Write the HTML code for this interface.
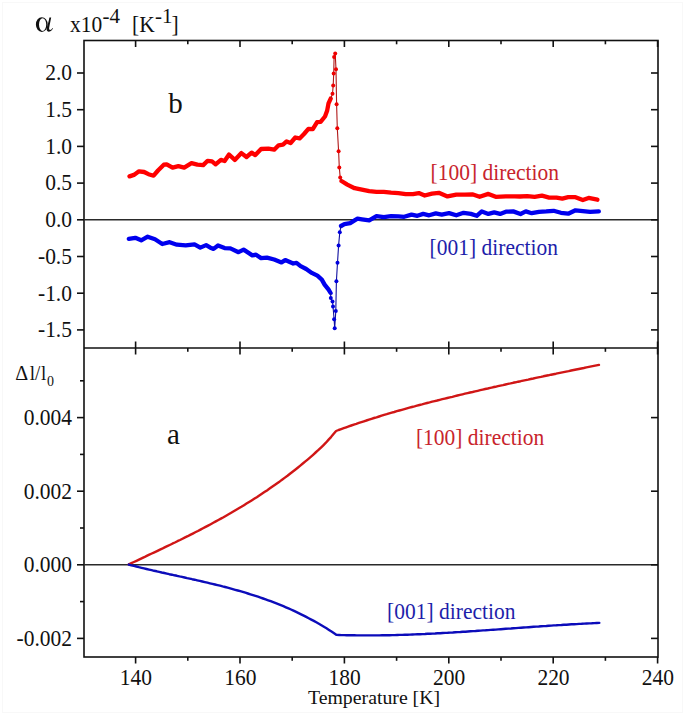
<!DOCTYPE html>
<html><head><meta charset="utf-8"><style>
html,body{margin:0;padding:0;background:#fff;}
svg{display:block;}
</style></head><body>
<svg width="685" height="715" viewBox="0 0 685 715">
<rect width="685" height="715" fill="#fff"/>
<rect x="2.5" y="2.5" width="680" height="710" fill="none" stroke="#f8f8f8" stroke-width="1"/>
<rect x="84" y="40.5" width="574" height="616.5" fill="none" stroke="#111" stroke-width="1.6"/>
<line x1="84" y1="348" x2="658" y2="348" stroke="#111" stroke-width="1.6"/>
<line x1="84" y1="219.8" x2="658" y2="219.8" stroke="#2a2a2a" stroke-width="1.4"/>
<line x1="84" y1="564.8" x2="658" y2="564.8" stroke="#2a2a2a" stroke-width="1.4"/>
<g stroke="#111" stroke-width="1.6"><line x1="135.6" y1="40.5" x2="135.6" y2="47.0"/><line x1="135.6" y1="657.0" x2="135.6" y2="663.5"/><line x1="135.6" y1="348.0" x2="135.6" y2="354.5"/><line x1="135.6" y1="341.5" x2="135.6" y2="348.0"/><line x1="187.8" y1="40.5" x2="187.8" y2="44.3"/><line x1="187.8" y1="657.0" x2="187.8" y2="660.8"/><line x1="187.8" y1="348.0" x2="187.8" y2="351.8"/><line x1="240.0" y1="40.5" x2="240.0" y2="47.0"/><line x1="240.0" y1="657.0" x2="240.0" y2="663.5"/><line x1="240.0" y1="348.0" x2="240.0" y2="354.5"/><line x1="240.0" y1="341.5" x2="240.0" y2="348.0"/><line x1="292.2" y1="40.5" x2="292.2" y2="44.3"/><line x1="292.2" y1="657.0" x2="292.2" y2="660.8"/><line x1="292.2" y1="348.0" x2="292.2" y2="351.8"/><line x1="344.4" y1="40.5" x2="344.4" y2="47.0"/><line x1="344.4" y1="657.0" x2="344.4" y2="663.5"/><line x1="344.4" y1="348.0" x2="344.4" y2="354.5"/><line x1="344.4" y1="341.5" x2="344.4" y2="348.0"/><line x1="396.6" y1="40.5" x2="396.6" y2="44.3"/><line x1="396.6" y1="657.0" x2="396.6" y2="660.8"/><line x1="396.6" y1="348.0" x2="396.6" y2="351.8"/><line x1="448.8" y1="40.5" x2="448.8" y2="47.0"/><line x1="448.8" y1="657.0" x2="448.8" y2="663.5"/><line x1="448.8" y1="348.0" x2="448.8" y2="354.5"/><line x1="448.8" y1="341.5" x2="448.8" y2="348.0"/><line x1="501.0" y1="40.5" x2="501.0" y2="44.3"/><line x1="501.0" y1="657.0" x2="501.0" y2="660.8"/><line x1="501.0" y1="348.0" x2="501.0" y2="351.8"/><line x1="553.2" y1="40.5" x2="553.2" y2="47.0"/><line x1="553.2" y1="657.0" x2="553.2" y2="663.5"/><line x1="553.2" y1="348.0" x2="553.2" y2="354.5"/><line x1="553.2" y1="341.5" x2="553.2" y2="348.0"/><line x1="605.4" y1="40.5" x2="605.4" y2="44.3"/><line x1="605.4" y1="657.0" x2="605.4" y2="660.8"/><line x1="605.4" y1="348.0" x2="605.4" y2="351.8"/><line x1="657.6" y1="40.5" x2="657.6" y2="47.0"/><line x1="657.6" y1="657.0" x2="657.6" y2="663.5"/><line x1="657.6" y1="348.0" x2="657.6" y2="354.5"/><line x1="657.6" y1="341.5" x2="657.6" y2="348.0"/><line x1="77.0" y1="73.0" x2="84.0" y2="73.0"/><line x1="651.0" y1="73.0" x2="658.0" y2="73.0"/><line x1="77.0" y1="109.7" x2="84.0" y2="109.7"/><line x1="651.0" y1="109.7" x2="658.0" y2="109.7"/><line x1="77.0" y1="146.4" x2="84.0" y2="146.4"/><line x1="651.0" y1="146.4" x2="658.0" y2="146.4"/><line x1="77.0" y1="183.1" x2="84.0" y2="183.1"/><line x1="651.0" y1="183.1" x2="658.0" y2="183.1"/><line x1="77.0" y1="219.8" x2="84.0" y2="219.8"/><line x1="651.0" y1="219.8" x2="658.0" y2="219.8"/><line x1="77.0" y1="256.5" x2="84.0" y2="256.5"/><line x1="651.0" y1="256.5" x2="658.0" y2="256.5"/><line x1="77.0" y1="293.2" x2="84.0" y2="293.2"/><line x1="651.0" y1="293.2" x2="658.0" y2="293.2"/><line x1="77.0" y1="329.9" x2="84.0" y2="329.9"/><line x1="651.0" y1="329.9" x2="658.0" y2="329.9"/><line x1="77.0" y1="638.4" x2="84.0" y2="638.4"/><line x1="651.0" y1="638.4" x2="658.0" y2="638.4"/><line x1="80.0" y1="601.6" x2="84.0" y2="601.6"/><line x1="77.0" y1="564.8" x2="84.0" y2="564.8"/><line x1="651.0" y1="564.8" x2="658.0" y2="564.8"/><line x1="80.0" y1="528.0" x2="84.0" y2="528.0"/><line x1="77.0" y1="491.2" x2="84.0" y2="491.2"/><line x1="651.0" y1="491.2" x2="658.0" y2="491.2"/><line x1="80.0" y1="454.4" x2="84.0" y2="454.4"/><line x1="77.0" y1="417.6" x2="84.0" y2="417.6"/><line x1="651.0" y1="417.6" x2="658.0" y2="417.6"/><line x1="80.0" y1="380.8" x2="84.0" y2="380.8"/></g>
<text font-family="Liberation Serif" font-size="21.5" fill="#111" text-anchor="end" x="0" y="0" transform="translate(72.00,80.30) scale(1.0,1.07)">2.0</text>
<text font-family="Liberation Serif" font-size="21.5" fill="#111" text-anchor="end" x="0" y="0" transform="translate(72.00,117.00) scale(1.0,1.07)">1.5</text>
<text font-family="Liberation Serif" font-size="21.5" fill="#111" text-anchor="end" x="0" y="0" transform="translate(72.00,153.70) scale(1.0,1.07)">1.0</text>
<text font-family="Liberation Serif" font-size="21.5" fill="#111" text-anchor="end" x="0" y="0" transform="translate(72.00,190.40) scale(1.0,1.07)">0.5</text>
<text font-family="Liberation Serif" font-size="21.5" fill="#111" text-anchor="end" x="0" y="0" transform="translate(72.00,227.10) scale(1.0,1.07)">0.0</text>
<text font-family="Liberation Serif" font-size="21.5" fill="#111" text-anchor="end" x="0" y="0" transform="translate(72.00,263.80) scale(1.0,1.07)">-0.5</text>
<text font-family="Liberation Serif" font-size="21.5" fill="#111" text-anchor="end" x="0" y="0" transform="translate(72.00,300.50) scale(1.0,1.07)">-1.0</text>
<text font-family="Liberation Serif" font-size="21.5" fill="#111" text-anchor="end" x="0" y="0" transform="translate(72.00,337.20) scale(1.0,1.07)">-1.5</text>
<text font-family="Liberation Serif" font-size="21.5" fill="#111" text-anchor="end" x="0" y="0" transform="translate(72.00,424.90) scale(1.0,1.07)">0.004</text>
<text font-family="Liberation Serif" font-size="21.5" fill="#111" text-anchor="end" x="0" y="0" transform="translate(72.00,498.50) scale(1.0,1.07)">0.002</text>
<text font-family="Liberation Serif" font-size="21.5" fill="#111" text-anchor="end" x="0" y="0" transform="translate(72.00,572.10) scale(1.0,1.07)">0.000</text>
<text font-family="Liberation Serif" font-size="21.5" fill="#111" text-anchor="end" x="0" y="0" transform="translate(72.00,645.70) scale(1.0,1.07)">-0.002</text>
<text font-family="Liberation Serif" font-size="21.5" fill="#111" text-anchor="middle" x="0" y="0" transform="translate(135.90,684.80) scale(1.0,1.07)">140</text>
<text font-family="Liberation Serif" font-size="21.5" fill="#111" text-anchor="middle" x="0" y="0" transform="translate(240.30,684.80) scale(1.0,1.07)">160</text>
<text font-family="Liberation Serif" font-size="21.5" fill="#111" text-anchor="middle" x="0" y="0" transform="translate(344.70,684.80) scale(1.0,1.07)">180</text>
<text font-family="Liberation Serif" font-size="21.5" fill="#111" text-anchor="middle" x="0" y="0" transform="translate(449.10,684.80) scale(1.0,1.07)">200</text>
<text font-family="Liberation Serif" font-size="21.5" fill="#111" text-anchor="middle" x="0" y="0" transform="translate(553.50,684.80) scale(1.0,1.07)">220</text>
<text font-family="Liberation Serif" font-size="21.5" fill="#111" text-anchor="middle" x="0" y="0" transform="translate(657.90,684.80) scale(1.0,1.07)">240</text>
<text font-family="Liberation Serif" font-size="19.8" fill="#111" x="308.00" y="703.50">Temperature [K]</text>
<text font-family="Liberation Serif" font-size="29" fill="#111" x="168.30" y="113.00">b</text>
<text font-family="Liberation Serif" font-size="29" fill="#111" x="167.00" y="444.00">a</text>
<path fill="#111" fill-rule="evenodd" d="M35.9,24.55 A5.9,7.35 0 1,0 47.7,24.55 A5.9,7.35 0 1,0 35.9,24.55 Z M39,24.55 A3.6,6.4 0 1,0 46.2,24.55 A3.6,6.4 0 1,0 39,24.55 Z"/>
<path fill="#111" d="M51.2,17.6 L49.4,17.6 C48.8,21 47.6,25.5 46.6,28.2 C46.2,30.5 47.8,32.2 49.8,31.6 C51.3,31.1 52.4,29.6 53,28.3 L52.5,28.1 C51.8,29.3 51,30 50.2,30 C49.2,30 48.9,29 49.2,27.5 C49.8,24.5 50.6,20.5 51.2,17.6 Z"/>
<text font-family="Liberation Serif" font-size="21.5" fill="#111" x="0" y="0" transform="translate(70.00,31.70) scale(1.0,1.07)">x10</text>
<text font-family="Liberation Serif" fill="#111" font-size="21" x="102.5" y="23">-4</text>
<text font-family="Liberation Serif" font-size="21.5" fill="#111" x="0" y="0" transform="translate(132.00,31.50) scale(1.0,1.07)">[K</text>
<text font-family="Liberation Serif" fill="#111" font-size="21" x="155" y="22.7">-1</text>
<text font-family="Liberation Serif" font-size="21.5" fill="#111" x="0" y="0" transform="translate(171.50,31.50) scale(1.0,1.07)">]</text>
<text font-family="Liberation Serif" font-size="19" fill="#111" x="0" y="0" transform="translate(15.3,379.8) scale(1.06,1.07)">Δ</text>
<g transform="translate(0,379.8) scale(1,1.07)"><text font-family="Liberation Serif" font-size="19" fill="#111" y="0"><tspan x="29.8">l</tspan><tspan x="35">/</tspan><tspan x="40.9">l</tspan></text></g>
<text font-family="Liberation Serif" font-size="14" fill="#111" x="0" y="0" transform="translate(47.00,386.00) scale(1.0,1.07)">0</text>
<text font-family="Liberation Serif" font-size="21.5" fill="#c8242c" x="0" y="0" transform="translate(430.60,179.80) scale(1.0,1.07)">[100] direction</text>
<text font-family="Liberation Serif" font-size="21.5" fill="#1e1eaa" x="0" y="0" transform="translate(429.60,254.80) scale(1.0,1.07)">[001] direction</text>
<text font-family="Liberation Serif" font-size="21.5" fill="#c8242c" x="0" y="0" transform="translate(415.90,444.60) scale(1.0,1.07)">[100] direction</text>
<text font-family="Liberation Serif" font-size="21.5" fill="#1e1eaa" x="0" y="0" transform="translate(387.10,618.80) scale(1.0,1.07)">[001] direction</text>
<polyline points="129.5,176.4 133.9,174.9 139.0,171.3 144.1,172.0 148.5,174.2 153.6,175.7 158.0,170.5 163.8,164.7 166.7,164.3 172.6,167.6 178.4,166.2 184.2,167.6 191.5,163.2 197.4,164.7 203.2,165.1 207.6,160.8 212.0,161.4 215.6,164.3 220.9,159.9 224.6,161.0 229.0,154.5 234.8,159.9 241.4,153.1 246.5,157.0 251.6,152.6 255.3,155.1 261.1,149.0 268.4,148.7 274.2,149.7 278.6,145.3 283.0,144.6 286.6,141.4 290.6,143.0 295.3,137.5 299.6,138.4 304.0,134.0 308.4,128.8 312.8,129.2 317.1,122.2 320.6,121.8 325.0,116.5 327.2,110.4 328.5,103.4 330.7,98.6" fill="none" stroke="#f00" stroke-width="4.3" stroke-linejoin="round" stroke-linecap="round"/>
<polyline points="341.5,181.0 347.3,184.6 354.6,188.2 361.9,189.7 369.2,191.2 376.5,191.9 383.8,191.9 391.1,192.6 398.4,193.1 405.7,194.1 413.0,194.1 418.8,193.1 424.7,195.5 432.0,193.6 438.8,192.8 447.5,196.4 456.3,194.6 465.0,194.6 472.3,194.3 479.6,196.8 488.4,193.9 495.7,196.8 505.9,196.4 514.7,196.4 520.0,196.5 527.3,196.2 534.6,196.8 541.9,195.7 549.2,197.6 556.5,197.6 562.3,198.6 568.2,197.2 575.5,197.2 582.8,200.1 588.6,197.9 597.4,199.7" fill="none" stroke="#f00" stroke-width="4.3" stroke-linejoin="round" stroke-linecap="round"/>
<polyline points="330.7,98.6 332.5,93.8 333.2,85.4 333.7,73.4 334.1,57.0 335.2,53.4 336.0,69.3 336.6,104.3 337.3,128.3 338.6,151.2 339.3,167.4 340.2,177.4 341.5,181.0" fill="none" stroke="#b01818" stroke-width="1.1" stroke-linejoin="round"/>
<g fill="#e00"><circle cx="332.5" cy="93.8" r="2.0"/><circle cx="333.2" cy="85.4" r="2.0"/><circle cx="333.7" cy="73.4" r="2.0"/><circle cx="334.1" cy="57" r="2.0"/><circle cx="335.2" cy="53.4" r="2.0"/><circle cx="336" cy="69.3" r="2.0"/><circle cx="336.6" cy="104.3" r="2.0"/><circle cx="337.3" cy="128.3" r="2.0"/><circle cx="338.6" cy="151.2" r="2.0"/><circle cx="339.3" cy="167.4" r="2.0"/><circle cx="340.2" cy="177.4" r="2.0"/></g>
<polyline points="128.8,238.9 135.3,237.8 141.2,240.3 147.7,236.7 155.0,239.3 162.3,244.0 169.6,242.2 176.9,244.7 185.7,245.4 194.5,244.3 200.3,247.6 206.1,245.1 210.0,247.4 213.6,248.9 218.0,245.5 224.6,248.1 230.4,248.4 238.5,252.2 243.6,249.6 252.3,255.4 256.0,254.7 261.1,258.1 266.9,257.6 274.2,259.5 281.5,262.4 285.2,260.1 293.2,263.5 296.5,262.8 300.6,266.2 306.2,269.0 311.8,272.9 317.4,275.7 321.8,279.6 324.6,284.6 328.6,289.7 330.6,293.0" fill="none" stroke="#00e" stroke-width="4.3" stroke-linejoin="round" stroke-linecap="round"/>
<polyline points="341.0,226.0 344.4,224.1 350.2,223.1 354.6,220.4 357.5,218.7 361.9,219.4 369.2,220.4 376.5,216.1 383.8,217.2 391.1,216.1 398.4,216.4 404.2,216.8 411.5,214.6 417.4,215.8 423.2,213.9 429.1,215.3 435.8,213.4 441.7,214.6 449.0,213.1 456.3,215.3 463.6,212.8 470.9,213.9 476.7,215.8 481.8,211.4 488.4,213.9 494.2,212.4 500.1,213.9 505.9,211.7 513.2,211.4 520.5,214.0 525.8,211.4 531.7,213.2 539.0,211.8 546.3,211.4 553.6,210.8 560.9,212.8 568.2,213.7 575.5,210.3 582.8,211.1 590.1,211.8 598.8,211.4" fill="none" stroke="#00e" stroke-width="4.3" stroke-linejoin="round" stroke-linecap="round"/>
<polyline points="330.6,293.0 330.8,298.1 332.5,301.4 333.0,306.5 334.1,319.3 334.7,328.3 335.8,310.9 336.4,281.3 337.5,262.8 338.6,245.4 339.8,232.3 341.0,226.0" fill="none" stroke="#1010a0" stroke-width="1.1" stroke-linejoin="round"/>
<g fill="#00d"><circle cx="330.8" cy="298.1" r="2.0"/><circle cx="332.5" cy="301.4" r="2.0"/><circle cx="333" cy="306.5" r="2.0"/><circle cx="334.1" cy="319.3" r="2.0"/><circle cx="334.7" cy="328.3" r="2.0"/><circle cx="335.8" cy="310.9" r="2.0"/><circle cx="336.4" cy="281.3" r="2.0"/><circle cx="337.5" cy="262.8" r="2.0"/><circle cx="338.6" cy="245.4" r="2.0"/><circle cx="339.8" cy="232.3" r="2.0"/></g>
<polyline points="128.8,564.4 131.4,563.2 133.9,562.0 136.5,560.8 139.0,559.6 141.6,558.4 144.2,557.2 146.7,555.9 149.3,554.7 151.8,553.5 154.4,552.3 157.0,551.1 159.5,549.9 162.1,548.7 164.6,547.4 167.2,546.2 169.7,545.0 172.3,543.7 174.9,542.5 177.4,541.2 180.0,540.0 182.5,538.7 185.1,537.4 187.7,536.2 190.2,534.9 192.8,533.6 195.3,532.3 197.9,531.0 200.5,529.6 203.0,528.3 205.6,526.9 208.1,525.6 210.7,524.2 213.3,522.8 215.8,521.4 218.4,520.0 220.9,518.6 223.5,517.2 226.1,515.7 228.6,514.3 231.2,512.8 233.7,511.3 236.3,509.8 238.8,508.3 241.4,506.8 244.0,505.2 246.5,503.6 249.1,502.0 251.6,500.4 254.2,498.8 256.8,497.2 259.3,495.5 261.9,493.8 264.4,492.1 267.0,490.4 269.6,488.6 272.1,486.8 274.7,485.0 277.2,483.2 279.8,481.4 282.4,479.5 284.9,477.6 287.5,475.7 290.0,473.7 292.6,471.7 295.2,469.7 297.7,467.7 300.3,465.6 302.8,463.5 305.4,461.4 307.9,459.3 310.5,457.1 313.1,454.8 315.6,452.5 318.2,450.2 320.7,447.8 323.3,445.3 325.9,442.7 328.4,439.9 331.0,437.1 333.5,434.1 336.1,431.0 338.6,430.0 341.2,429.1 343.7,428.2 346.2,427.3 348.7,426.4 351.3,425.5 353.8,424.6 356.3,423.8 358.9,422.9 361.4,422.1 363.9,421.3 366.4,420.5 369.0,419.6 371.5,418.8 374.0,418.0 376.5,417.3 379.1,416.5 381.6,415.7 384.1,414.9 386.7,414.2 389.2,413.4 391.7,412.7 394.2,412.0 396.8,411.2 399.3,410.5 401.8,409.8 404.4,409.1 406.9,408.4 409.4,407.7 411.9,407.0 414.5,406.4 417.0,405.7 419.5,405.0 422.0,404.4 424.6,403.7 427.1,403.0 429.6,402.4 432.2,401.7 434.7,401.1 437.2,400.5 439.7,399.8 442.3,399.2 444.8,398.6 447.3,398.0 449.9,397.4 452.4,396.8 454.9,396.1 457.4,395.5 460.0,394.9 462.5,394.3 465.0,393.7 467.6,393.1 470.1,392.5 472.6,392.0 475.1,391.4 477.7,390.8 480.2,390.2 482.7,389.6 485.2,389.0 487.8,388.5 490.3,387.9 492.8,387.3 495.4,386.8 497.9,386.2 500.4,385.6 502.9,385.1 505.5,384.5 508.0,383.9 510.5,383.4 513.1,382.8 515.6,382.3 518.1,381.7 520.6,381.2 523.2,380.6 525.7,380.1 528.2,379.6 530.7,379.0 533.3,378.5 535.8,377.9 538.3,377.4 540.9,376.9 543.4,376.3 545.9,375.8 548.4,375.3 551.0,374.7 553.5,374.2 556.0,373.7 558.6,373.1 561.1,372.6 563.6,372.1 566.1,371.6 568.7,371.1 571.2,370.5 573.7,370.0 576.2,369.5 578.8,369.0 581.3,368.5 583.8,368.0 586.4,367.4 588.9,366.9 591.4,366.4 593.9,365.9 596.5,365.4 599.0,364.9" fill="none" stroke="#d01616" stroke-width="2.4" stroke-linecap="round" stroke-linejoin="round"/>
<polyline points="128.8,564.6 131.3,565.3 133.9,565.9 136.4,566.5 138.9,567.2 141.5,567.8 144.0,568.4 146.5,569.0 149.1,569.6 151.6,570.2 154.1,570.8 156.7,571.3 159.2,571.9 161.7,572.5 164.3,573.0 166.8,573.6 169.3,574.2 171.9,574.7 174.4,575.3 176.9,575.8 179.5,576.4 182.0,576.9 184.6,577.5 187.1,578.1 189.6,578.6 192.2,579.2 194.7,579.7 197.2,580.3 199.8,580.9 202.3,581.5 204.8,582.1 207.4,582.7 209.9,583.3 212.4,583.9 215.0,584.5 217.5,585.1 220.0,585.7 222.6,586.4 225.1,587.0 227.6,587.7 230.2,588.4 232.7,589.1 235.2,589.8 237.8,590.5 240.3,591.2 242.8,591.9 245.4,592.7 247.9,593.5 250.4,594.3 253.0,595.1 255.5,595.9 258.0,596.7 260.6,597.6 263.1,598.5 265.6,599.4 268.2,600.3 270.7,601.2 273.2,602.2 275.8,603.2 278.3,604.2 280.8,605.2 283.4,606.2 285.9,607.3 288.5,608.4 291.0,609.5 293.5,610.7 296.1,611.9 298.6,613.1 301.1,614.3 303.7,615.6 306.2,616.9 308.7,618.2 311.3,619.6 313.8,620.9 316.3,622.3 318.9,623.8 321.4,625.3 323.9,626.8 326.5,628.3 329.0,629.9 331.5,631.5 334.1,633.2 336.6,634.9 339.1,635.0 341.7,635.1 344.2,635.1 346.7,635.2 349.2,635.3 351.8,635.3 354.3,635.3 356.8,635.4 359.3,635.4 361.9,635.4 364.4,635.4 366.9,635.4 369.4,635.4 372.0,635.4 374.5,635.4 377.0,635.4 379.5,635.4 382.1,635.3 384.6,635.3 387.1,635.2 389.6,635.2 392.2,635.1 394.7,635.1 397.2,635.0 399.7,634.9 402.3,634.9 404.8,634.8 407.3,634.7 409.9,634.6 412.4,634.5 414.9,634.4 417.4,634.3 420.0,634.2 422.5,634.1 425.0,634.0 427.5,633.8 430.1,633.7 432.6,633.6 435.1,633.5 437.6,633.3 440.2,633.2 442.7,633.0 445.2,632.9 447.7,632.8 450.3,632.6 452.8,632.5 455.3,632.3 457.8,632.1 460.4,632.0 462.9,631.8 465.4,631.7 467.9,631.5 470.5,631.3 473.0,631.1 475.5,631.0 478.1,630.8 480.6,630.6 483.1,630.4 485.6,630.3 488.2,630.1 490.7,629.9 493.2,629.7 495.7,629.6 498.3,629.4 500.8,629.2 503.3,629.0 505.8,628.8 508.4,628.6 510.9,628.5 513.4,628.3 515.9,628.1 518.5,627.9 521.0,627.7 523.5,627.5 526.0,627.4 528.6,627.2 531.1,627.0 533.6,626.8 536.2,626.6 538.7,626.5 541.2,626.3 543.7,626.1 546.3,626.0 548.8,625.8 551.3,625.6 553.8,625.4 556.4,625.3 558.9,625.1 561.4,625.0 563.9,624.8 566.5,624.7 569.0,624.5 571.5,624.3 574.0,624.2 576.6,624.1 579.1,623.9 581.6,623.8 584.1,623.6 586.7,623.5 589.2,623.4 591.7,623.3 594.2,623.1 596.8,623.0 599.3,622.9" fill="none" stroke="#0c0cba" stroke-width="2.4" stroke-linecap="round" stroke-linejoin="round"/>
</svg>
</body></html>
